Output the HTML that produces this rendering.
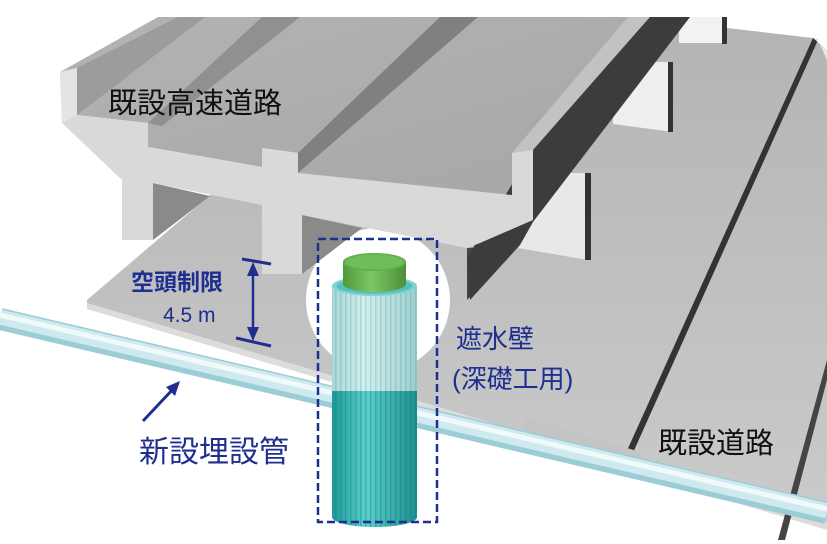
<!DOCTYPE html>
<html><head><meta charset="utf-8"><style>
html,body{margin:0;padding:0;background:#fff;}
svg{display:block}
text{font-family:"Liberation Sans","Noto Sans CJK JP",sans-serif;}
</style></head><body>
<svg width="827" height="544" viewBox="0 0 827 544" xmlns="http://www.w3.org/2000/svg">
<defs>
<linearGradient id="gr" x1="0" y1="0" x2="0" y2="1">
<stop offset="0" stop-color="#b4b4b4"/><stop offset="1" stop-color="#cbcbcb"/></linearGradient>
<linearGradient id="top" x1="0" y1="0" x2="1" y2="1">
<stop offset="0" stop-color="#b3b3b3"/><stop offset="1" stop-color="#a6a6a6"/></linearGradient>
<linearGradient id="col" x1="0" y1="0" x2="1" y2="0">
<stop offset="0" stop-color="#1e9a98"/><stop offset=".4" stop-color="#5cd0cc"/><stop offset="1" stop-color="#1c8f8e"/></linearGradient>
<linearGradient id="colt" x1="0" y1="0" x2="1" y2="0">
<stop offset="0" stop-color="#a8d8d6"/><stop offset=".4" stop-color="#d3eeed"/><stop offset="1" stop-color="#9ccfce"/></linearGradient>
<linearGradient id="green" x1="0" y1="0" x2="1" y2="0">
<stop offset="0" stop-color="#4f9a3c"/><stop offset=".45" stop-color="#7cc766"/><stop offset="1" stop-color="#4c8f39"/></linearGradient>
<pattern id="stripes" width="5" height="10" patternUnits="userSpaceOnUse">
<rect width="1.5" height="10" fill="#0f7a7a" opacity=".5"/></pattern>
</defs>

<polygon points="87,300 230,178 660,24 727,28 813,38 827,50 827,527 87,307" fill="url(#gr)"/>
<polygon points="87,303 827,522 827,530 87,309" fill="#dcdcdc"/>
<polygon points="813,38 818,40 632,455 625,455" fill="#333"/>
<polygon points="813,38 827,50 827,60 818,40" fill="#e8e8e8"/>
<polygon points="827,360 827,380 785,540 778,540" fill="#444"/>
<polygon points="525,417 640,452 640,470 525,430" fill="#c4c4c4"/>

<polygon points="679,17 722,17 722,43 679,43" fill="#f2f2f2"/>
<rect x="722" y="17" width="5" height="27" fill="#333"/>
<polygon points="613,62 673,62 673,132 613,124" fill="#eeeeee"/>
<rect x="668" y="62" width="5" height="70" fill="#333"/>
<polygon points="518,173 588,173 588,260 518,248" fill="#e8e8e8"/>
<rect x="585" y="173" width="6" height="87" fill="#333"/>

<circle cx="378" cy="300" r="72" fill="#ffffff"/>

<polygon points="153,183 210,196 153,240" fill="#8a8a8a"/>
<polygon points="302,215 362,228 302,274" fill="#8a8a8a"/>
<polygon points="467,248 520,245 467,300" fill="#444"/>

<polygon points="60,72 158,17 690,17 533,150 512,153 512,195 298,173 298,153 262,148 262,167 148,147 148,123 77,115 77,68" fill="url(#top)"/>
<polygon points="77,68 77,115 205,17 178,17" fill="#9c9c9c"/>
<polygon points="148,123 162,126 300,17 262,17" fill="#909090"/>
<polygon points="298,153 298,173 478,17 440,17" fill="#808080"/>
<polygon points="512,153 533,150 650,17 628,17" fill="#c2c2c2"/>
<polygon points="650,17 690,17 533,222 520,245 470,300 467,258 533,150" fill="#3c3c3c"/>
<polygon points="60,72 77,68 77,115 148,123 148,147 262,167 262,148 298,153 298,173 512,195 512,153 533,150 533,220 480,243 467,248 302,215 302,274 262,274 262,205 153,183 153,240 122,240 122,180 62,123" fill="#d9d9d9"/>
<polygon points="60,72 77,68 77,115 62,123" fill="#e4e4e4"/>

<!-- pipe -->
<line x1="0" y1="319" x2="827" y2="513" stroke="#9ccdd6" stroke-width="22"/>
<line x1="0" y1="317" x2="827" y2="511" stroke="#cfeaef" stroke-width="15"/>
<line x1="0" y1="315" x2="827" y2="509" stroke="#f0fafb" stroke-width="5"/>

<rect x="332" y="287" width="85" height="104" fill="url(#colt)"/>
<rect x="332" y="287" width="85" height="104" fill="url(#stripes)" opacity=".35"/>
<path d="M332,391 L417,391 L417,517 A42.5,10 0 0 1 332,517 Z" fill="url(#col)"/>
<path d="M332,391 L417,391 L417,517 A42.5,10 0 0 1 332,517 Z" fill="url(#stripes)" opacity=".7"/>
<ellipse cx="374.5" cy="286" rx="42.5" ry="10" fill="#7fd3d0"/>
<ellipse cx="374.5" cy="286" rx="38" ry="8" fill="#57bfbc"/>
<path d="M343,262 L406,262 L406,284 A31.5,8 0 0 1 343,284 Z" fill="url(#green)"/>
<ellipse cx="374.5" cy="262" rx="31.5" ry="9" fill="#5fae49"/>
<ellipse cx="374.5" cy="262" rx="29" ry="7.5" fill="#6ebd58"/>

<rect x="318" y="239" width="119" height="283" fill="none" stroke="#1f2f8f" stroke-width="2.5" stroke-dasharray="8,4"/>

<line x1="242" y1="259" x2="271" y2="264" stroke="#1f2f8f" stroke-width="3"/>
<line x1="236" y1="338" x2="271" y2="346" stroke="#1f2f8f" stroke-width="3"/>
<line x1="253" y1="268" x2="253" y2="335" stroke="#1f2f8f" stroke-width="2.5"/>
<polygon points="253,262 247,276 259,276" fill="#1f2f8f"/>
<polygon points="253,341 247,327 259,327" fill="#1f2f8f"/>

<line x1="143" y1="421" x2="174" y2="388" stroke="#1f2f8f" stroke-width="3"/>
<polygon points="180,381 166,387 175,396" fill="#1f2f8f"/>

<text x="108" y="113" font-size="29" fill="#111">既設高速道路</text>
<text x="131" y="290" font-size="23" fill="#1f2f8f" font-weight="bold">空頭制限</text>
<text x="163" y="322" font-size="21" fill="#1f2f8f">4.5 m</text>
<text x="456" y="348" font-size="26" fill="#1f2f8f">遮水壁</text>
<text x="452" y="388" font-size="26" fill="#1f2f8f">(深礎工用)</text>
<text x="139" y="462" font-size="30" fill="#1f2f8f">新設埋設管</text>
<text x="658" y="453" font-size="29" fill="#111">既設道路</text>
</svg>
</body></html>
